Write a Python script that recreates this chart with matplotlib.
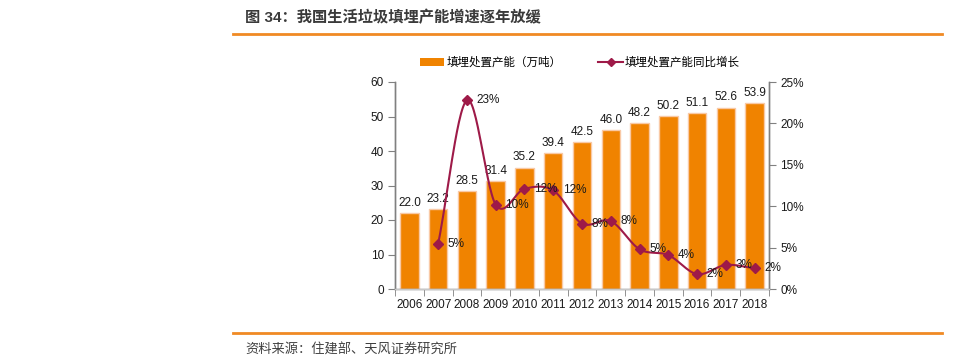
import numpy as np
import matplotlib
matplotlib.use("Agg")
import matplotlib.pyplot as plt
from matplotlib.lines import Line2D
from matplotlib.patches import Patch

plt.rcParams['font.family'] = ['Liberation Sans', 'Noto Sans CJK SC', 'DejaVu Sans']

years = ['2006', '2007', '2008', '2009', '2010', '2011', '2012',
         '2013', '2014', '2015', '2016', '2017', '2018']
capacity = [22.0, 23.2, 28.5, 31.4, 35.2, 39.4, 42.5, 46.0, 48.2, 50.2, 51.1, 52.6, 53.9]
growth = [None, 5.45, 22.8, 10.2, 12.1, 11.9, 7.9, 8.2, 4.8, 4.1, 1.8, 2.9, 2.5]
growth_labels = ['', '5%', '23%', '10%', '12%', '12%', '8%', '8%', '5%', '4%', '2%', '3%', '2%']

title = '图 34：我国生活垃圾填埋产能增速逐年放缓'
source = '资料来源：住建部、天风证券研究所'
legend_bar = '填埋处置产能（万吨）'
legend_line = '填埋处置产能同比增长'

ORANGE = '#F08300'
EDGE = '#F9C9A5'
MAROON = '#9E1A48'
GRAY = '#808080'
TXT = '#1a1a1a'

fig = plt.figure(figsize=(9.59, 3.62), dpi=100)
ax = fig.add_axes([395/959, 1-289/362, (769-395)/959, (289-82)/362])
ax2 = ax.twinx()

x = np.arange(len(years))
bars = ax.bar(x, capacity, width=0.64, color=ORANGE, edgecolor=EDGE, linewidth=1.0, zorder=2)
for xi, v in zip(x, capacity):
    ax.annotate(f'{v:.1f}', (xi, v), xytext=(0, 3), textcoords='offset points',
                ha='center', va='bottom', fontsize=8.5, color=TXT)

ax.set_xlim(-0.5, len(years)-0.5)
ax.set_ylim(0, 60)
ax.set_yticks(range(0, 61, 10))
ax.set_xticks(x)
ax.set_xticklabels(years, fontsize=8.5, color=TXT)
ax.set_xticks(np.arange(-0.5, len(years), 1.0), minor=True)
ax.tick_params(axis='x', which='major', length=0, pad=7)
ax.tick_params(axis='x', which='minor', length=5, color=GRAY, direction='out')
ax.tick_params(axis='y', length=5, color=GRAY, labelsize=8.5, labelcolor=TXT, pad=3)

ax2.set_ylim(0, 25)
ax2.set_yticks(range(0, 26, 5))
ax2.set_yticklabels([f'{t}%' for t in range(0, 26, 5)])
ax2.tick_params(axis='y', length=5, color=GRAY, labelsize=8.5, labelcolor=TXT, pad=3)

for a in (ax, ax2):
    a.spines['top'].set_visible(False)
    for s in ('left', 'right', 'bottom'):
        a.spines[s].set_color(GRAY)
        a.spines[s].set_linewidth(1.0)
ax2.spines['bottom'].set_color('#c8c8c8')

# smoothed line (Catmull-Rom rendering through the data points)
gx = np.array([xi for xi, g in zip(x, growth) if g is not None], dtype=float)
gy = np.array([g for g in growth if g is not None], dtype=float)
px = np.concatenate([[2*gx[0]-gx[1]], gx, [2*gx[-1]-gx[-2]]])
py = np.concatenate([[2*gy[0]-gy[1]], gy, [2*gy[-1]-gy[-2]]])
cx, cy = [], []
t = np.linspace(0, 1, 30)
for i in range(1, len(px)-2):
    p0, p1, p2, p3 = [np.array([px[j], py[j]]) for j in (i-1, i, i+1, i+2)]
    b1 = p1 + (p2 - p0)/6
    b2 = p2 - (p3 - p1)/6
    pts = ((1-t)**3)[:, None]*p1 + (3*(1-t)**2*t)[:, None]*b1 + (3*(1-t)*t**2)[:, None]*b2 + (t**3)[:, None]*p2
    cx.extend(pts[:, 0]); cy.extend(pts[:, 1])
ax2.plot(cx, cy, color=MAROON, linewidth=1.5, zorder=3)
ax2.plot(gx, gy, linestyle='none', marker='D', markersize=5.5, color=MAROON, zorder=4)
for xi, g, lab in zip(x, growth, growth_labels):
    if g is None:
        continue
    ax2.annotate(lab, (xi, g), xytext=(7, 0), textcoords='offset points',
                 ha='left', va='center', fontsize=8.5, color=TXT, zorder=5)

# legend
handles = [Patch(facecolor=ORANGE, edgecolor='none'),
           Line2D([0], [0], color=MAROON, lw=1.5, marker='D', markersize=4)]
fig.legend(handles, [legend_bar, legend_line], loc='center', bbox_to_anchor=(580/959, 1-63/362),
           ncol=2, frameon=False, fontsize=8.3, handlelength=2.1, handleheight=0.6,
           columnspacing=3.2, handletextpad=0.2)

# title and rules
fig.text(245/959, 1-18/362, title, fontsize=11, fontweight='bold', color='#3a3a3a',
         ha='left', va='center')
fig.add_artist(Line2D([233/959, 942/959], [1-34/362, 1-34/362], color='#F08A24', lw=2.0))
fig.add_artist(Line2D([233/959, 942/959], [1-333/362, 1-333/362], color='#F08A24', lw=2.0))
fig.text(245/959, 1-350/362, source, fontsize=9.5, color='#404040', ha='left', va='center')

fig.savefig('out.png', dpi=100)
